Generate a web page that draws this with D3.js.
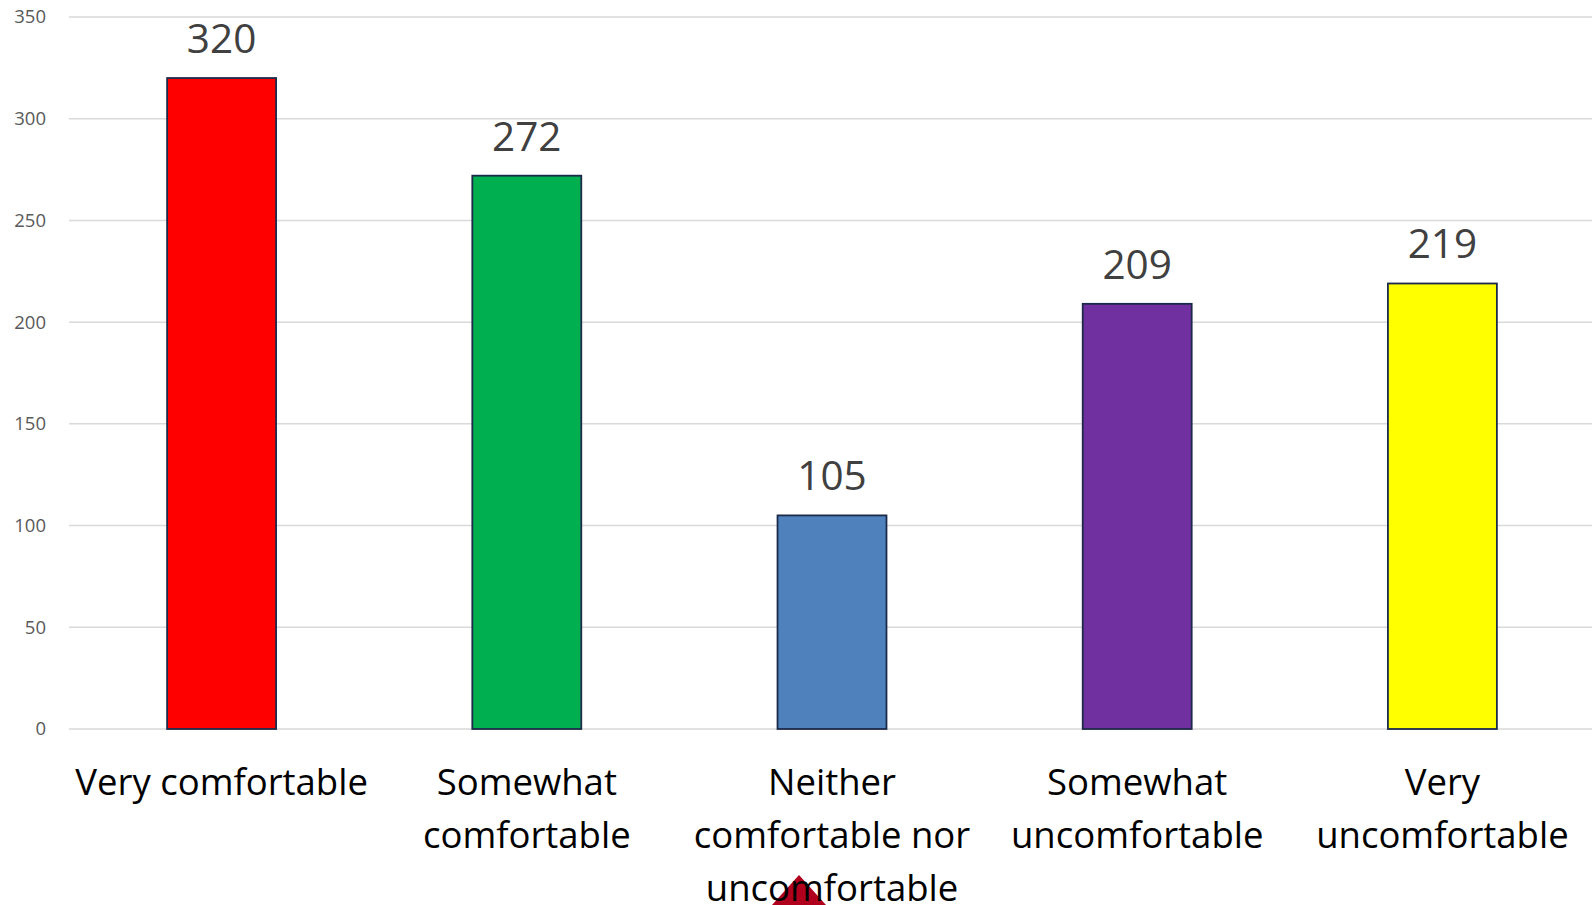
<!DOCTYPE html>
<html><head><meta charset="utf-8">
<script src="https://cdn.jsdelivr.net/npm/d3@7/dist/d3.min.js"></script>
<style>html,body{margin:0;padding:0;background:#fff;overflow:hidden}</style>
</head><body>
<svg id="c" width="1592" height="905"></svg>
<script>
const categories = ["Very comfortable","Somewhat comfortable","Neither comfortable nor uncomfortable","Somewhat uncomfortable","Very uncomfortable"];
const labelLines = [["Very comfortable"],["Somewhat","comfortable"],["Neither","comfortable nor","uncomfortable"],["Somewhat","uncomfortable"],["Very","uncomfortable"]];
const values = [320,272,105,209,219];
const colors = ["#FF0000","#00B050","#4F81BD","#7030A0","#FFFF00"];
const ticks = [0,50,100,150,200,250,300,350];

const svg = d3.select("#c");
const m = {left:69, right:-3, top:17, bottom:176};
const W = 1592, H = 905;
const x = d3.scaleBand().domain(categories).range([m.left, W - m.right]).paddingInner(0.643).paddingOuter(0.3215);
const y = d3.scaleLinear().domain([0,350]).range([H - m.bottom, m.top]);
const font = "'Open Sans', sans-serif";

// gridlines
svg.append("g").selectAll("line").data(ticks).join("line")
  .attr("x1", m.left).attr("x2", W).attr("y1", d=>y(d)).attr("y2", d=>y(d))
  .attr("stroke", "#D9D9D9").attr("stroke-width", 1.5);

// y axis labels
const yAxis = d3.axisLeft(y).tickValues(ticks).tickSize(0).tickPadding(0);
const ga = svg.append("g").attr("transform", `translate(46,0)`).call(yAxis);
ga.select(".domain").remove();
ga.selectAll("text").attr("font-family", font).attr("font-size", 18.5).attr("fill", "#595959");

// bars
svg.append("g").selectAll("rect").data(values).join("rect")
  .attr("x", (d,i)=>x(categories[i])).attr("width", x.bandwidth())
  .attr("y", d=>y(d)).attr("height", d=>y(0)-y(d))
  .attr("fill", (d,i)=>colors[i]).attr("stroke", "#1C2A4A").attr("stroke-width", 1.8);

// value labels
svg.append("g").selectAll("text").data(values).join("text")
  .attr("x", (d,i)=>x(categories[i]) + x.bandwidth()/2)
  .attr("y", d=>y(d) - 25)
  .attr("text-anchor", "middle").attr("font-family", font).attr("font-size", 40.5)
  .attr("fill", "#404040").text(d=>d);

// decorative triangle near third category label
const cx = x(categories[2]) + x.bandwidth()/2 - 33;
svg.append("path")
  .attr("d", `M${cx},875 L${cx+27},905 L${cx-27},905 Z`)
  .attr("fill", "#B0001E");

// category labels
const cg = svg.append("g");
labelLines.forEach((lines, i) => {
  const t = cg.append("text").attr("text-anchor","middle").attr("font-family", font)
    .attr("font-size", 36.5).attr("fill", "#000");
  lines.forEach((l, j) => {
    t.append("tspan").attr("x", x(categories[i]) + x.bandwidth()/2)
      .attr("y", y(0) + 66 + j*53).text(l);
  });
});
</script>
</body></html>
